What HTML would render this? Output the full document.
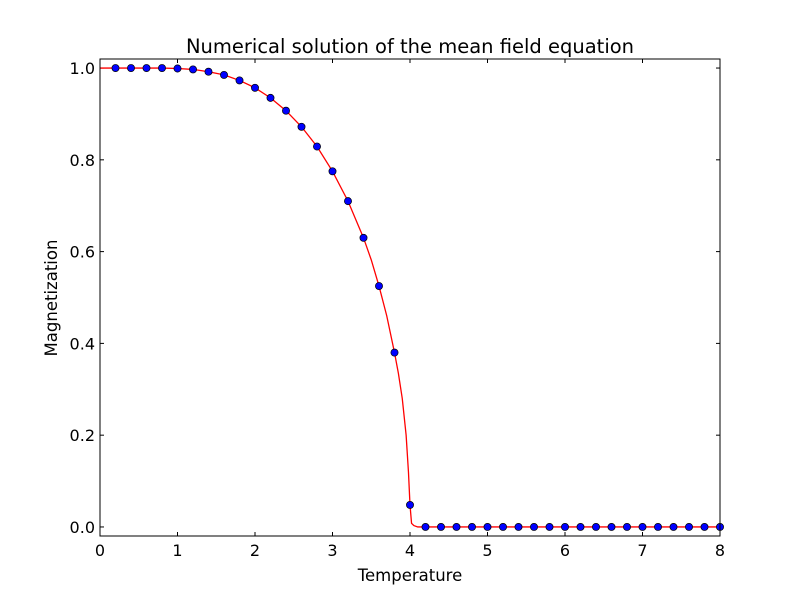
<!DOCTYPE html>
<html><head><meta charset="utf-8"><style>
body{margin:0;background:#fff;}
svg{display:block;font-family:"DejaVu Sans","Liberation Sans",sans-serif;}
</style></head><body>
<svg id="chart" width="800" height="596">
<rect width="800" height="596" fill="#fff"/>
<g id="plot"></g>
<text x="410" y="53" font-size="19.5" text-anchor="middle">Numerical solution of the mean field equation</text>
<text x="410" y="581" font-size="16.5" text-anchor="middle">Temperature</text>
<text x="57" y="298" font-size="16.5" text-anchor="middle" transform="rotate(-90 57 298)">Magnetization</text>
</svg>
<script>
const xTicks=[0,1,2,3,4,5,6,7,8];
const yTicks=[0.0,0.2,0.4,0.6,0.8,1.0];
const pointT=[0.2,0.4,0.6,0.8,1.0,1.2,1.4,1.6,1.8,2.0,2.2,2.4,2.6,2.8,3.0,3.2,3.4,3.6,3.8,4.0,4.2,4.4,4.6,4.8,5.0,5.2,5.4,5.6,5.8,6.0,6.2,6.4,6.6,6.8,7.0,7.2,7.4,7.6,7.8,8.0];
const pointM=[1,1,1,1,0.999,0.997,0.992,0.985,0.973,0.957,0.935,0.907,0.872,0.829,0.775,0.710,0.630,0.525,0.380,0.048,0,0,0,0,0,0,0,0,0,0,0,0,0,0,0,0,0,0,0,0];
const lineT=[0,0.4,0.8,1.0,1.2,1.4,1.6,1.8,2.0,2.2,2.4,2.6,2.8,3.0,3.2,3.4,3.5,3.6,3.7,3.8,3.85,3.9,3.95,3.98,4.0,4.02,4.05,4.1,8];
const lineM=[1,1,1,0.999,0.997,0.992,0.985,0.973,0.957,0.935,0.907,0.872,0.829,0.775,0.710,0.630,0.582,0.525,0.460,0.380,0.335,0.280,0.200,0.120,0.048,0.008,0.003,0,0];
const L=100,R=720,T=59,B=536,xMin=0,xMax=8,yMin=-0.0197,yMax=1.0197;
const sx=v=>L+(v-xMin)/(xMax-xMin)*(R-L);
const sy=v=>B-(v-yMin)/(yMax-yMin)*(B-T);
const NS="http://www.w3.org/2000/svg";
const g=document.getElementById('plot');
function mk(tag,attrs){const e=document.createElementNS(NS,tag);for(const k in attrs)e.setAttribute(k,attrs[k]);g.appendChild(e);return e;}
xTicks.forEach(v=>{
  const x=sx(v);
  const a=mk('line',{x1:x,x2:x,y1:B,y2:B-4,stroke:'#000'});
  
  
  const b=mk('line',{x1:x,x2:x,y1:T,y2:T+4,stroke:'#000'});
  
  
  const t=mk('text',{x:x,y:B+20,'font-size':16,'text-anchor':'middle'});
  t.textContent=v;
  
  
});
yTicks.forEach(v=>{
  const y=sy(v);
  const a=mk('line',{x1:L,x2:L+4,y1:y,y2:y,stroke:'#000'});
  
  
  const b=mk('line',{x1:R,x2:R-4,y1:y,y2:y,stroke:'#000'});
  
  
  const t=mk('text',{x:L-5,y:y+6,'font-size':16,'text-anchor':'end'});
  t.textContent=v.toFixed(1);
  
  
});
const p=mk('polyline',{points:lineT.map((t,i)=>sx(t)+','+sy(lineM[i])).join(' '),fill:'none',stroke:'#ff0000','stroke-width':1.3});


pointT.forEach((t,i)=>{
  const c=mk('circle',{cx:sx(t),cy:sy(pointM[i]),r:3.6,fill:'#0000ff',stroke:'#000','stroke-width':0.7});
  
  
});
const f=mk('rect',{x:L,y:T,width:R-L,height:B-T,fill:'none',stroke:'#000','stroke-width':1});


</script>
</body></html>
